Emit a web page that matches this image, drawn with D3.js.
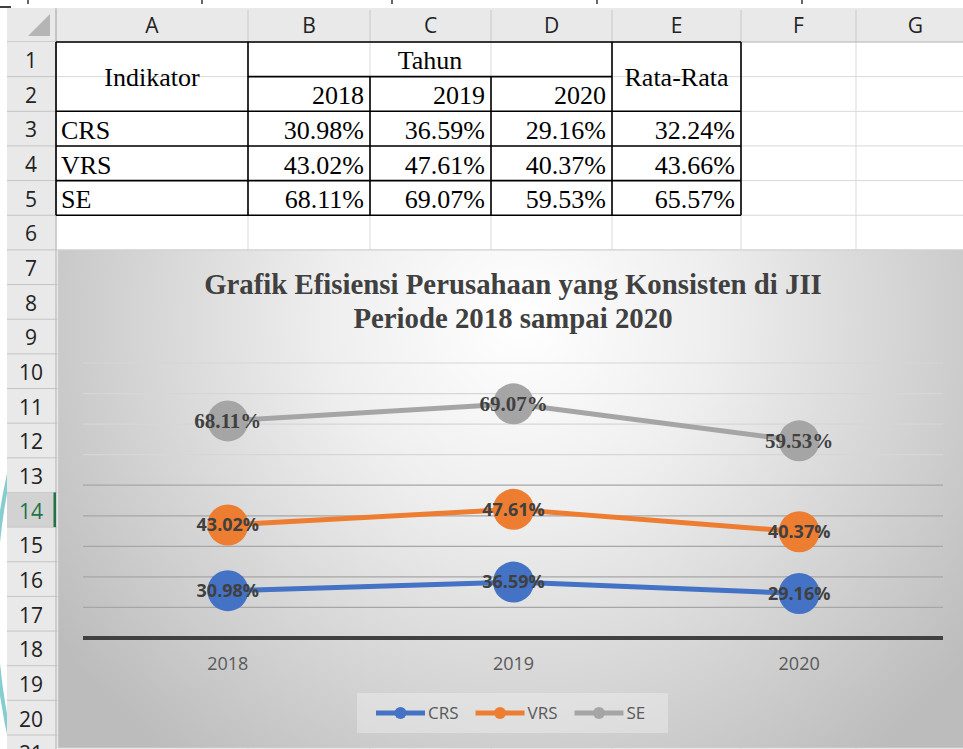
<!DOCTYPE html>
<html>
<head>
<script src="https://cdn.jsdelivr.net/npm/d3@7"></script>
<style>
  body { margin: 0; background: #fff; }
  svg { display: block; }
</style>
</head>
<body>
<svg id="sheet" width="963" height="749"></svg>
<script>
var years = ["2018", "2019", "2020"];
var crs = [30.98, 36.59, 29.16];
var vrs = [43.02, 47.61, 40.37];
var se  = [68.11, 69.07, 59.53];
var avg = [32.24, 43.66, 65.57];
var indicators = ["CRS", "VRS", "SE"];
var colLetters = ["A", "B", "C", "D", "E", "F", "G"];
var yTicks = [0, 20, 40, 60, 80, 100, 120, 140, 160, 180];
var titleLines = ["Grafik Efisiensi Perusahaan yang Konsisten di JII", "Periode 2018 sampai 2020"];

var svg = d3.select("#sheet");
var W = 963, H = 749;
var serif = "'Liberation Serif', 'Times New Roman', serif";
var sans = "'Open Sans', 'Noto Sans', sans-serif";

// spreadsheet geometry
var colX = [56, 248, 370, 491, 612, 741, 856, 975];
var headTop = 8, headBot = 42, rowH = 34.65;
function rowTop(r) { return headBot + (r - 1) * rowH; }

svg.append("rect").attr("width", W).attr("height", H).attr("fill", "#fff");

// teal decoration behind the sheet on the left
svg.append("path")
  .attr("d", "M16,445 Q-26,600 16,765")
  .attr("fill", "none").attr("stroke", "#86cdd2").attr("stroke-width", 4);

// little marks on top edge
svg.append("line").attr("x1", 0).attr("x2", 11).attr("y1", 7).attr("y2", 7)
  .attr("stroke", "#000").attr("stroke-width", 1.5);
[28, 202, 392, 597, 802].forEach(function(x) {
  svg.append("line").attr("x1", x).attr("x2", x).attr("y1", 0).attr("y2", 4)
    .attr("stroke", "#000").attr("stroke-width", 1.2);
});

// cells gridlines
var grid = svg.append("g");
for (var r = 1; r <= 21; r++) {
  grid.append("line").attr("x1", colX[0]).attr("x2", W)
    .attr("y1", rowTop(r) + rowH).attr("y2", rowTop(r) + rowH)
    .attr("stroke", "#d9d9d9");
}
colX.forEach(function(x) {
  grid.append("line").attr("x1", x).attr("x2", x).attr("y1", headBot).attr("y2", H)
    .attr("stroke", "#d9d9d9");
});

// column header
svg.append("rect").attr("x", 7).attr("y", headTop).attr("width", W - 7).attr("height", headBot - headTop)
  .attr("fill", "#e9e9e9");
svg.append("path").attr("d", "M50,14 L50,36 L28,36 Z").attr("fill", "#b5b5b5");
colLetters.forEach(function(c, i) {
  svg.append("line").attr("x1", colX[i]).attr("x2", colX[i]).attr("y1", headTop + 2).attr("y2", headBot)
    .attr("stroke", "#c8c8c8");
  svg.append("text").attr("x", (colX[i] + colX[i + 1]) / 2).attr("y", headBot - 9)
    .attr("text-anchor", "middle").attr("font-family", sans).attr("font-size", 21)
    .attr("fill", "#222").text(c);
});
svg.append("line").attr("x1", 7).attr("x2", W).attr("y1", headBot).attr("y2", headBot)
  .attr("stroke", "#b0b0b0");

// row header
svg.append("rect").attr("x", 7).attr("y", headBot).attr("width", colX[0] - 7).attr("height", H - headBot)
  .attr("fill", "#e9e9e9");
for (var r = 1; r <= 21; r++) {
  var active = r === 14;
  if (active) {
    svg.append("rect").attr("x", 7).attr("y", rowTop(r)).attr("width", colX[0] - 7).attr("height", rowH)
      .attr("fill", "#d2d2d2");
  }
  svg.append("line").attr("x1", 7).attr("x2", colX[0]).attr("y1", rowTop(r) + rowH).attr("y2", rowTop(r) + rowH)
    .attr("stroke", "#c4c4c4");
  svg.append("text").attr("x", 31).attr("y", rowTop(r) + rowH - 8.5)
    .attr("text-anchor", "middle").attr("font-family", sans).attr("font-size", 21)
    .attr("fill", active ? "#217346" : "#222").text(r);
}
svg.append("line").attr("x1", colX[0]).attr("x2", colX[0]).attr("y1", headTop).attr("y2", H)
  .attr("stroke", "#b0b0b0");
svg.append("rect").attr("x", colX[0] - 2.5).attr("y", rowTop(14)).attr("width", 2.5).attr("height", rowH)
  .attr("fill", "#217346");

// table
var tbl = svg.append("g").attr("font-family", serif).attr("font-size", 26).attr("fill", "#000");
function cellText(txt, col, row, align, dy) {
  var x = align === "start" ? colX[col] + 5 : align === "end" ? colX[col + 1] - 6 : (colX[col] + colX[col + 1]) / 2;
  tbl.append("text").attr("x", x).attr("y", rowTop(row) + rowH - 7 + (dy || 0))
    .attr("text-anchor", align).text(txt);
}
tbl.append("text").attr("x", (colX[0] + colX[1]) / 2).attr("y", rowTop(2) + 9)
  .attr("text-anchor", "middle").text("Indikator");
tbl.append("text").attr("x", (colX[1] + colX[4]) / 2).attr("y", rowTop(1) + rowH - 8)
  .attr("text-anchor", "middle").text("Tahun");
tbl.append("text").attr("x", (colX[4] + colX[5]) / 2).attr("y", rowTop(2) + 9.5)
  .attr("text-anchor", "middle").text("Rata-Rata");
years.forEach(function(y, i) { cellText(y, i + 1, 2, "end"); });
var rowsData = [crs, vrs, se];
indicators.forEach(function(name, k) {
  cellText(name, 0, k + 3, "start");
  rowsData[k].forEach(function(v, i) { cellText(v.toFixed(2) + "%", i + 1, k + 3, "end"); });
  cellText(avg[k].toFixed(2) + "%", 4, k + 3, "end");
});
var bl = svg.append("g").attr("stroke", "#000").attr("stroke-width", 1.6);
function hl(x1, x2, y) { bl.append("line").attr("x1", x1).attr("x2", x2).attr("y1", y).attr("y2", y); }
function vl(x, y1, y2) { bl.append("line").attr("x1", x).attr("x2", x).attr("y1", y1).attr("y2", y2); }
hl(colX[0], colX[5], rowTop(1));
hl(colX[1], colX[4], rowTop(2));
for (var r = 3; r <= 6; r++) hl(colX[0], colX[5], rowTop(r));
vl(colX[0], rowTop(1), rowTop(6));
vl(colX[1], rowTop(1), rowTop(6));
vl(colX[2], rowTop(2), rowTop(6));
vl(colX[3], rowTop(2), rowTop(6));
vl(colX[4], rowTop(1), rowTop(6));
vl(colX[5], rowTop(1), rowTop(6));

// ---- chart ----
var cx0 = 58, cy0 = 250, cW = W - cx0 + 2, cH = 498;
var defs = svg.append("defs");
var rg = defs.append("radialGradient").attr("id", "bg").attr("gradientUnits", "userSpaceOnUse")
  .attr("cx", 520).attr("cy", 320).attr("r", 560);
rg.append("stop").attr("offset", 0).attr("stop-color", "#ffffff");
rg.append("stop").attr("offset", 0.35).attr("stop-color", "#eeeeee");
rg.append("stop").attr("offset", 1).attr("stop-color", "#bcbcbc");
var chart = svg.append("g");
chart.append("rect").attr("x", cx0).attr("y", cy0).attr("width", cW).attr("height", cH)
  .attr("fill", "url(#bg)").attr("stroke", "#d0d0d0");

chart.selectAll(".title").data(titleLines).enter().append("text")
  .attr("x", 513).attr("y", function(d, i) { return 294 + i * 34; })
  .attr("text-anchor", "middle").attr("font-family", serif).attr("font-weight", "bold")
  .attr("font-size", 28.8).attr("fill", "#404040").text(function(d) { return d; });

var x = d3.scalePoint().domain(years).range([85, 942]).padding(0.5);
var y = d3.scaleLinear().domain([0, 180]).range([638, 363]);

chart.selectAll(".grid").data(yTicks.slice(1)).enter().append("line")
  .attr("x1", 83).attr("x2", 943).attr("y1", function(d) { return y(d); }).attr("y2", function(d) { return y(d); })
  .attr("stroke", function(d) { return d <= 100 ? "#a6a6a6" : "#d6d6d6"; }).attr("stroke-width", 1.2);
chart.append("line").attr("x1", 83).attr("x2", 943).attr("y1", y(0)).attr("y2", y(0))
  .attr("stroke", "#404040").attr("stroke-width", 4);

chart.selectAll(".xl").data(years).enter().append("text")
  .attr("x", function(d) { return x(d); }).attr("y", 670)
  .attr("text-anchor", "middle").attr("font-family", sans).attr("font-size", 18)
  .attr("fill", "#595959").text(function(d) { return d; });

// stacked line chart
var table = years.map(function(yr, i) { return { year: yr, CRS: crs[i], VRS: vrs[i], SE: se[i] }; });
var stack = d3.stack().keys(indicators)(table);
var colors = { CRS: "#4472c4", VRS: "#ed7d31", SE: "#a5a5a5" };
var line = d3.line().x(function(d) { return x(d.data.year); }).y(function(d) { return y(d[1]); });

stack.forEach(function(s) {
  chart.append("path").datum(s).attr("d", line).attr("fill", "none")
    .attr("stroke", colors[s.key]).attr("stroke-width", 5).attr("stroke-linejoin", "round");
  chart.selectAll(".m" + s.key).data(s).enter().append("circle")
    .attr("cx", function(d) { return x(d.data.year); }).attr("cy", function(d) { return y(d[1]); })
    .attr("r", 20.5).attr("fill", colors[s.key]);
});
stack.forEach(function(s) {
  var isSE = s.key === "SE";
  chart.selectAll(".l" + s.key).data(s).enter().append("text")
    .attr("x", function(d) { return x(d.data.year); }).attr("y", function(d) { return y(d[1]); })
    .attr("dy", "0.35em").attr("text-anchor", "middle")
    .attr("font-family", isSE ? serif : sans).attr("font-weight", "bold")
    .attr("font-size", isSE ? 21 : 18).attr("fill", "#404040")
    .text(function(d) { return d.data[s.key].toFixed(2) + "%"; });
});

// legend
var lg = chart.append("g");
lg.append("rect").attr("x", 357).attr("y", 693).attr("width", 311).attr("height", 40)
  .attr("fill", "#ffffff").attr("fill-opacity", 0.3);
var lx = 376;
indicators.forEach(function(k) {
  lg.append("line").attr("x1", lx).attr("x2", lx + 49).attr("y1", 713).attr("y2", 713)
    .attr("stroke", colors[k]).attr("stroke-width", 5);
  lg.append("circle").attr("cx", lx + 24.5).attr("cy", 713).attr("r", 6).attr("fill", colors[k]);
  var t = lg.append("text").attr("x", lx + 52).attr("y", 713).attr("dy", "0.36em")
    .attr("font-family", sans).attr("font-size", 17).attr("fill", "#595959").text(k);
  lx = lx + 52 + t.node().getComputedTextLength() + 17;
});
</script>
</body>
</html>
